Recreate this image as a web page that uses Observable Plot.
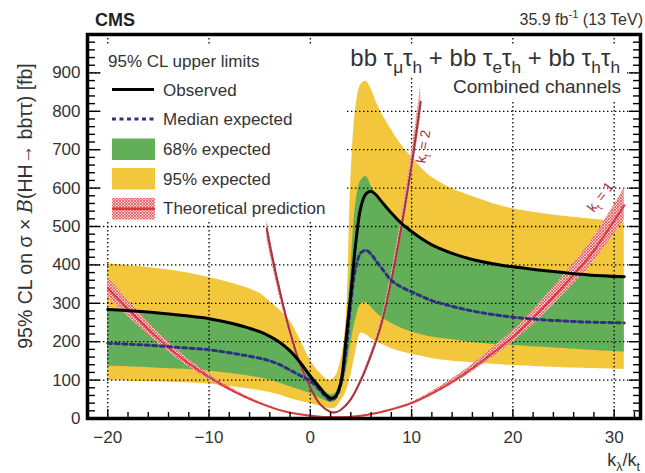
<!DOCTYPE html>
<html><head><meta charset="utf-8">
<script src="https://cdn.jsdelivr.net/npm/d3@7"></script>
<script src="https://cdn.jsdelivr.net/npm/@observablehq/plot@0.6"></script>
<style>body{margin:0;background:#fff} svg{display:block}</style>
</head><body><div id="chart"></div>
<script>
// ---------- data ----------
const X      = [-20,-17.5,-15,-12.5,-10,-7.5,-5,-4,-3,-2,-1,0,1,1.5,2,2.5,3,3.5,4,4.5,5,5.5,6,6.5,7,8,9,10,11,12,14,16,18,20,22.5,25,27.5,31];
const hi95   = [403,397,390,381,367,350,326,305,282,254,205,152,117,104,98,110,150,245,620,810,870,878,858,825,797,752,712,680,652,628,598,578,560,546,535,527,520,512];
const lo95   = [99,97,95,93,90,82,73,68,61,52,45,39,32,28,26,28,45,68,112,175,222,218,208,200,194,182,174,168,162,156,149,145,141,138,135,132,130,127];
const hi68   = [280,276,271,264,256,243,224,212,197,176,150,118,85,70,62,68,100,215,390,560,620,630,606,582,562,530,504,483,464,448,426,410,399,391,383,377,372,366];
const lo68   = [136,134,131,128,124,116,106,100,92,83,74,65,52,46,42,46,85,118,195,260,298,302,290,276,264,248,235,225,218,212,205,198,193,190,186,182,178,173];
const expMed = [196,193,189,184,179,169,157,150,140,126,112,98,72,58,48,55,88,170,300,395,432,438,428,410,393,360,342,330,318,307,292,280,271,264,258,254,251,249];
const obs    = [284,280,275,268,260,246,226,214,198,176,146,110,78,62,53,58,92,200,325,460,552,585,592,582,566,535,508,487,468,452,430,414,403,395,387,380,374,369];

const XT1  = [-20,-17.5,-15,-12.5,-10,-7.5,-5,-2.5,0,2.5,5,7.5,10,12.5,15,17.5,20,22.5,25,27.5,30,31];
const t1   = [340,272,208,153,108,70,40,18,7,3,7,20,40,72,112,160,212,275,345,420,515,555];
const t1hi = [368,294,224,165,116,75,43,19.5,7.5,3.3,7.5,21.5,43,78,121,173,229,297,373,454,556,600];
const t1lo = [318,254,195,143,101,66,37.5,17,6.5,2.8,6.5,18.7,37.5,67,105,150,198,257,323,393,481,518];

const XT2  = [-4.3,-4,-3,-2,-1,0,1,2,2.5,3,4,5,6,7,8,9,10,10.9];
const t2   = [495,452,330,225,140,80,36,17,16,22,50,100,165,245,360,500,660,825];
const t2hi = [520,475,347,236,147,84,38,18,17,23,52.5,105,173,257,378,525,693,866];
const t2lo = [470,429,313,214,133,76,34,16,15,21,47.5,95,157,233,342,475,627,784];

const xLabels = [-20,-10,0,10,20,30];
const xMinor  = [-18,-16,-14,-12,-8,-6,-4,-2,2,4,6,8,12,14,16,18,22,24,26,28,32];
const yLabels = [0,100,200,300,400,500,600,700,800,900];
const yGrid   = [100,200,300,400,500,600,700,800,900];
const yMinor  = [20,40,60,80,120,140,160,180,220,240,260,280,320,340,360,380,420,440,460,480,520,540,560,580,620,640,660,680,720,740,760,780,820,840,860,880,920,940,960,980];

// ---------- tables ----------
const band = X.map((x,i)=>({x, hi95:hi95[i], lo95:lo95[i], hi68:hi68[i], lo68:lo68[i], exp:expMed[i], obs:obs[i]}));
const th1 = XT1.map((x,i)=>({x, y:t1[i], hi:t1hi[i], lo:t1lo[i]}));
const th2 = XT2.map((x,i)=>({x, y:t2[i], hi:t2hi[i], lo:t2lo[i]}));

const FONT = "'Liberation Sans', Arial, Helvetica, sans-serif";
const YEL = "#F2C73C", GRN = "#63AF59", BLUE = "#2E3181", RED = "#D63C3F", DRED = "#A8313A";
const curve = "catmull-rom";
const W = 645, H = 473, ML = 87, MR = 5, MT = 34, MB = 55;
const PW = W - ML - MR, PH = H - MT - MB;
const tk = {stroke: "#000", strokeWidth: 1.4};

const plot = Plot.plot({
  width: W, height: H,
  marginLeft: ML, marginRight: MR, marginTop: MT, marginBottom: MB,
  x: {domain: [-22, 32.6], label: null},
  y: {domain: [0, 1000], label: null},
  style: {fontFamily: FONT, fontSize: "17px", background: "white", color: "#333"},
  marks: [
    Plot.areaY(band, {x:"x", y1:"lo95", y2:"hi95", fill: YEL, curve}),
    Plot.areaY(band, {x:"x", y1:"lo68", y2:"hi68", fill: GRN, curve}),
    Plot.gridX(xLabels, {stroke:"#000", strokeOpacity:1, strokeWidth:1.3, strokeDasharray:"1.4,2.6"}),
    Plot.gridY(yGrid, {stroke:"#000", strokeOpacity:1, strokeWidth:1.3, strokeDasharray:"1.4,2.6"}),
    Plot.areaY(th1, {x:"x", y1:"lo", y2:"hi", fill:"url(#hatch1)", curve}),
    Plot.areaY(th2, {x:"x", y1:"lo", y2:"hi", fill:"url(#hatch2)", curve}),
    Plot.line(th1, {x:"x", y:"y", stroke: RED, strokeWidth: 2, curve}),
    Plot.line(th2, {x:"x", y:"y", stroke: DRED, strokeWidth: 2, curve}),
    Plot.line(band, {x:"x", y:"exp", stroke: BLUE, strokeWidth: 3, strokeDasharray:"4,3.5", curve}),
    Plot.line(band, {x:"x", y:"obs", stroke: "#000", strokeWidth: 3, curve}),
    // inward ticks
    Plot.tickX(xLabels, {x: d=>d, insetTop: PH - 9, ...tk}),
    Plot.tickX(xMinor,  {x: d=>d, insetTop: PH - 6, ...tk}),
    Plot.tickY(yLabels, {y: d=>d, insetRight: PW - 13, ...tk}),
    Plot.tickY(yMinor,  {y: d=>d, insetRight: PW - 8, ...tk}),
    Plot.tickY(yLabels, {y: d=>d, insetLeft: PW - 11, ...tk}),
    Plot.tickY(yMinor,  {y: d=>d, insetLeft: PW - 7, ...tk}),
    Plot.frame({stroke:"#000", strokeWidth: 3.5}),
    Plot.axisX({ticks: xLabels, tickSize: 0, tickPadding: 12, label: null, fill:"#333", fontSize: 17}),
    Plot.axisY({ticks: yLabels, tickSize: 0, tickPadding: 7, label: null, fill:"#333", fontSize: 17})
  ]
});
document.getElementById("chart").appendChild(plot);

// ---------- patterns ----------
const svg = d3.select(plot);
const defs = svg.insert("defs", ":first-child");
function hatch(id, bg, line){
  const p = defs.append("pattern").attr("id", id).attr("patternUnits","userSpaceOnUse").attr("width",3).attr("height",3);
  p.append("rect").attr("width",3).attr("height",3).attr("fill",bg);
  p.append("path").attr("d","M0,0L3,3M3,0L0,3").attr("stroke",line).attr("stroke-width",0.7).attr("fill","none");
}
hatch("hatch1", "#f7c9c9", "#e0474c");
hatch("hatch2", "#f3d0d0", "#d36a6f");

// ---------- white boxes behind legend and titles ----------
const boxes = svg.append("g").attr("fill", "white");
boxes.append("rect").attr("x",101).attr("y",45).attr("width",244).attr("height",177);
boxes.append("rect").attr("x",345).attr("y",45).attr("width",281).attr("height",33);
boxes.append("rect").attr("x",448).attr("y",78).attr("width",178).attr("height",22);

// ---------- text ----------
const g = svg.append("g").attr("font-family", FONT).attr("fill", "#333").attr("text-anchor","start");
function rich(sel, parts, base, f = 0.7){
  let shift = 0;
  parts.forEach(([s, k]) => {
    const target = k === "sub" ? base*0.3 : k === "sup" ? -base*0.42 : 0;
    const t = sel.append("tspan").attr("dy", target - shift).text(s);
    if (k) t.attr("font-size", base*f);
    shift = target;
  });
}
g.append("text").attr("x",95).attr("y",26).attr("font-weight","bold").attr("font-size",18).attr("fill","#222").text("CMS");
rich(g.append("text").attr("x",643).attr("y",25).attr("text-anchor","end").attr("font-size",16),
  [["35.9 fb"],["-1","sup"],[" (13 TeV)"]], 16);
rich(g.append("text").attr("x",620).attr("y",66).attr("text-anchor","end").attr("font-size",24),
  [["bb τ"],["μ","sub"],["τ"],["h","sub"],[" + bb τ"],["e","sub"],["τ"],["h","sub"],[" + bb τ"],["h","sub"],["τ"],["h","sub"]], 24, 0.72);
g.append("text").attr("x",621).attr("y",93).attr("text-anchor","end").attr("font-size",19).text("Combined channels");

const yl = g.append("text").attr("transform","translate(32,206) rotate(-90)").attr("text-anchor","middle").attr("font-size",19.5);
yl.append("tspan").text("95% CL on σ × ");
yl.append("tspan").attr("font-family","'DejaVu Serif', serif").attr("font-style","italic").text("B");
yl.append("tspan").text("(HH→ bbττ) [fb]");

rich(g.append("text").attr("x",640).attr("y",466).attr("text-anchor","end").attr("font-size",18),
  [["k"],["λ","sub"],["/k"],["t","sub"]], 18);

// curve labels (placed with the plot's scales)
const sx = plot.scale("x"), sy = plot.scale("y");
function klabel(x, y, ang, t){
  const el = g.append("text").attr("transform",`translate(${sx.apply(x)},${sy.apply(y)}) rotate(${ang})`)
    .attr("text-anchor","middle").attr("font-size",14).attr("fill",DRED);
  rich(el, [["k"],["t","sub"],[" = " + t]], 14);
}
klabel(11.66, 705, -81, "2");
klabel(29.05, 568, -52, "1");

// legend
const L = g.append("g");
L.append("text").attr("x",108).attr("y",67).attr("font-size",17).text("95% CL upper limits");
const rows = [["Observed",96],["Median expected",125],["68% expected",155],["95% expected",185],["Theoretical prediction",214]];
rows.forEach(([t,y]) => L.append("text").attr("x",163).attr("y",y).attr("font-size",17).text(t));
L.append("line").attr("x1",112).attr("x2",154).attr("y1",89.5).attr("y2",89.5).attr("stroke","#000").attr("stroke-width",3);
L.append("line").attr("x1",112).attr("x2",154).attr("y1",119).attr("y2",119).attr("stroke",BLUE).attr("stroke-width",3).attr("stroke-dasharray","4,3.5");
L.append("rect").attr("x",112).attr("y",138.5).attr("width",43).attr("height",21.5).attr("fill",GRN);
L.append("rect").attr("x",112).attr("y",168).attr("width",43).attr("height",21.5).attr("fill",YEL);
L.append("rect").attr("x",112).attr("y",198).attr("width",43).attr("height",21.5).attr("fill","url(#hatch1)");
L.append("line").attr("x1",112).attr("x2",155).attr("y1",208.8).attr("y2",208.8).attr("stroke",RED).attr("stroke-width",2.5);
</script></body></html>
